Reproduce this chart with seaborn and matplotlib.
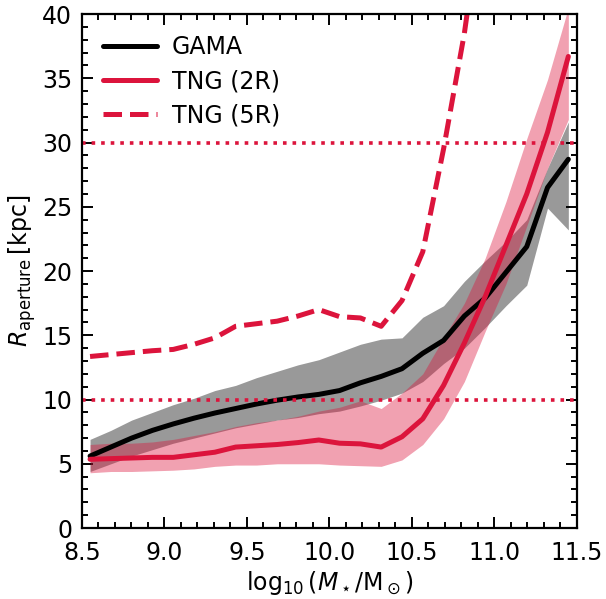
import numpy as np
import pandas as pd
import matplotlib
matplotlib.use("Agg")
import matplotlib.pyplot as plt
from matplotlib.ticker import MultipleLocator, FormatStrFormatter
import seaborn as sns

# Stellar-mass bin centres, log10(M*/Msun)
mass = [8.55, 8.676, 8.802, 8.928, 9.054, 9.18, 9.306, 9.432, 9.558, 9.684,
        9.81, 9.936, 10.062, 10.188, 10.314, 10.44, 10.566, 10.692, 10.818,
        10.944, 11.07, 11.196, 11.322, 11.448]

# GAMA aperture radius [kpc]: median and spread
gama_med = [5.6, 6.3, 7.0, 7.6, 8.1, 8.55, 8.95, 9.3, 9.65, 9.95, 10.2, 10.4,
            10.7, 11.3, 11.8, 12.4, 13.6, 14.6, 16.5, 17.9, 19.9, 21.9, 26.5, 28.7]
gama_hi = [6.9, 7.6, 8.4, 9.0, 9.6, 10.1, 10.7, 11.1, 11.7, 12.2, 12.7, 13.1,
           13.7, 14.3, 14.7, 14.8, 16.4, 17.3, 19.2, 20.8, 22.3, 24.0, 28.0, 31.6]
gama_lo = [4.4, 5.0, 5.6, 6.1, 6.6, 7.0, 7.4, 7.8, 8.1, 8.4, 8.6, 8.9,
           9.1, 9.5, 9.95, 10.5, 11.4, 12.8, 14.0, 15.6, 17.3, 18.9, 24.9, 23.2]

# TNG, 2 half-mass radii aperture
tng2_med = [5.35, 5.4, 5.45, 5.5, 5.5, 5.7, 5.9, 6.3, 6.4, 6.5, 6.65, 6.85,
            6.6, 6.55, 6.3, 7.1, 8.5, 11.1, 14.4, 18.0, 22.0, 26.0, 30.8, 36.7]
tng2_hi = [6.5, 6.6, 6.6, 6.7, 6.9, 7.2, 7.5, 7.9, 8.2, 8.4, 8.7, 9.1,
           9.4, 9.9, 9.3, 10.5, 12.0, 14.8, 17.5, 21.0, 25.4, 30.3, 34.9, 40.5]
tng2_lo = [4.3, 4.4, 4.4, 4.45, 4.5, 4.6, 4.8, 4.9, 4.9, 5.0, 5.0, 5.0,
           4.9, 4.85, 4.8, 5.3, 6.5, 8.5, 11.4, 15.3, 19.0, 23.5, 28.0, 31.8]

# TNG, 5 half-mass radii aperture (median only)
tng5_mass = mass[:20]
tng5_med = [13.35, 13.5, 13.65, 13.8, 13.9, 14.3, 14.8, 15.7, 15.9, 16.1,
            16.5, 17.0, 16.45, 16.35, 15.7, 17.7, 21.5, 29.5, 38.5, 50.0]

# Fixed reference apertures
ref_apertures = [10, 30]

CRIMSON = "#DC143C"

sns.set_style("ticks")
plt.rcParams.update({
    "font.family": ["DejaVu Sans"],
    "mathtext.fontset": "dejavusans",
    "font.size": 17,
    "axes.linewidth": 1.6,
    "axes.edgecolor": "black",
    "axes.labelcolor": "black",
    "xtick.color": "black",
    "ytick.color": "black",
    "text.color": "black",
})

gama = pd.DataFrame({"mass": mass, "R": gama_med})
tng2 = pd.DataFrame({"mass": mass, "R": tng2_med})
tng5 = pd.DataFrame({"mass": tng5_mass, "R": tng5_med})

fig = plt.figure(figsize=(6.06, 5.99), dpi=100)
ax = fig.add_axes([0.135, 0.1185, 0.817, 0.858])

ax.fill_between(mass, gama_lo, gama_hi, color="black", alpha=0.4, lw=0)
ax.fill_between(mass, tng2_lo, tng2_hi, color=CRIMSON, alpha=0.4, lw=0)

sns.lineplot(data=gama, x="mass", y="R", ax=ax, color="black", lw=3.6,
             label="GAMA", sort=False)
sns.lineplot(data=tng2, x="mass", y="R", ax=ax, color=CRIMSON, lw=3.6,
             label="TNG (2R)", sort=False)
sns.lineplot(data=tng5, x="mass", y="R", ax=ax, color=CRIMSON, lw=3.6,
             ls="--", label="TNG (5R)", sort=False)

for r in ref_apertures:
    ax.axhline(r, color=CRIMSON, ls=":", lw=2.6)

ax.set_xlim(8.5, 11.5)
ax.set_ylim(0, 40)
ax.xaxis.set_major_locator(MultipleLocator(0.5))
ax.xaxis.set_minor_locator(MultipleLocator(0.1))
ax.yaxis.set_major_locator(MultipleLocator(5))
ax.yaxis.set_minor_locator(MultipleLocator(1))
ax.xaxis.set_major_formatter(FormatStrFormatter("%.1f"))
ax.tick_params(which="both", direction="in", top=True, right=True,
               labelsize=17, width=1.4)
ax.tick_params(which="major", length=8)
ax.tick_params(which="minor", length=4)
ax.tick_params(axis="x", which="major", pad=9)
ax.tick_params(axis="y", which="major", pad=7)

ax.set_xlabel(r"$\log_{10}(M_\star/\mathrm{M}_\odot)$", fontsize=17, labelpad=3)
ax.set_ylabel(r"$R_{\rm aperture}\,[\rm kpc]$", fontsize=17, labelpad=3)

ax.legend(loc="upper left", frameon=False, fontsize=17, handlelength=2.3,
          handletextpad=0.6, borderaxespad=0.5, labelspacing=0.42)

fig.savefig("out.png", dpi=100)
